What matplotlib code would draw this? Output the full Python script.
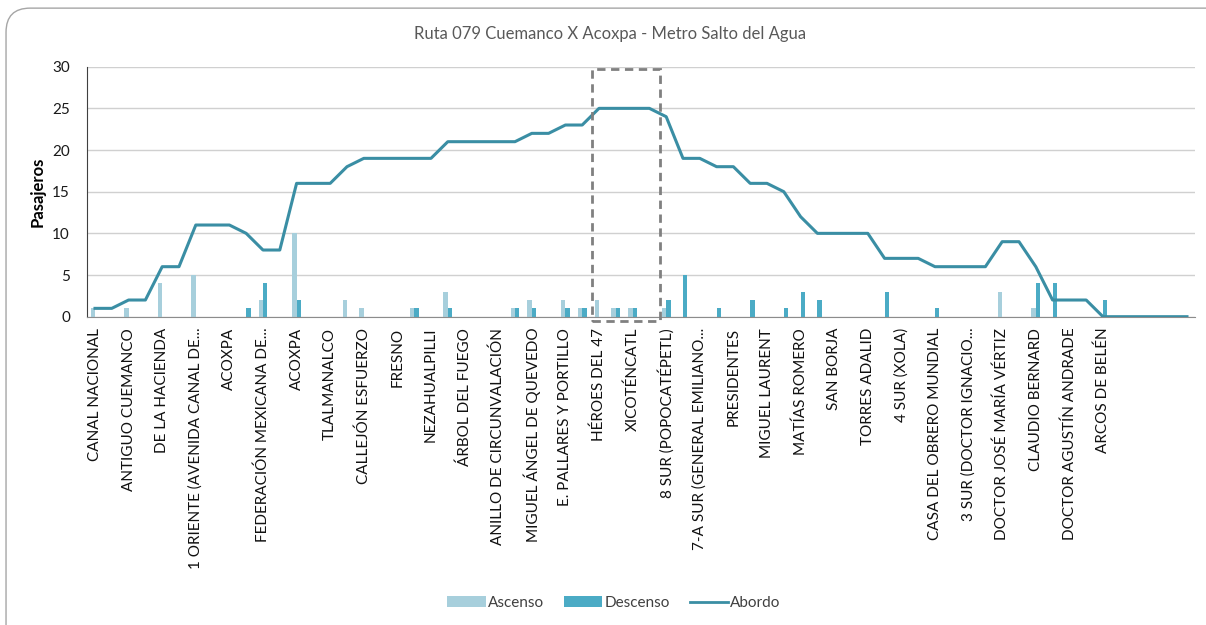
import matplotlib.pyplot as plt
import numpy as np
from matplotlib.patches import Patch, Rectangle, FancyBboxPatch
from matplotlib.lines import Line2D

plt.rcParams['font.family'] = ['Lato', 'DejaVu Sans']

# stop labels (only every second stop is labelled on the axis)
stop_labels = [
    'CANAL NACIONAL', 'ANTIGUO CUEMANCO', 'DE LA HACIENDA', '1 ORIENTE (AVENIDA CANAL DE...',
    'ACOXPA', 'FEDERACIÓN MEXICANA DE...', 'ACOXPA', 'TLALMANALCO', 'CALLEJÓN ESFUERZO',
    'FRESNO', 'NEZAHUALPILLI', 'ÁRBOL DEL FUEGO', 'ANILLO DE CIRCUNVALACIÓN',
    'MIGUEL ÁNGEL DE QUEVEDO', 'E. PALLARES Y PORTILLO', 'HÉROES DEL 47', 'XICOTÉNCATL',
    '8 SUR (POPOCATÉPETL)', '7-A SUR (GENERAL EMILIANO...', 'PRESIDENTES', 'MIGUEL LAURENT',
    'MATÍAS ROMERO', 'SAN BORJA', 'TORRES ADALID', '4 SUR (XOLA)', 'CASA DEL OBRERO MUNDIAL',
    '3 SUR (DOCTOR IGNACIO...', 'DOCTOR JOSÉ MARÍA VÉRTIZ', 'CLAUDIO BERNARD',
    'DOCTOR AGUSTÍN ANDRADE', 'ARCOS DE BELÉN', '', '',
]

abordo = [1, 1, 2, 2, 6, 6, 11, 11, 11, 10, 8, 8, 16, 16, 16, 18, 19, 19, 19, 19,
          19, 21, 21, 21, 21, 21, 22, 22, 23, 23, 25, 25, 25, 25, 24, 19, 19, 18, 18, 16,
          16, 15, 12, 10, 10, 10, 10, 7, 7, 7, 6, 6, 6, 6, 9, 9, 6, 2, 2, 2,
          0, 0, 0, 0, 0, 0]

ascenso = [1, 0, 1, 0, 4, 0, 5, 0, 0, 0, 2, 0, 10, 0, 0, 2, 1, 0, 0, 1,
           0, 3, 0, 0, 0, 1, 2, 0, 2, 1, 2, 1, 1, 0, 1, 0, 0, 0, 0, 0,
           0, 0, 0, 0, 0, 0, 0, 0, 0, 0, 0, 0, 0, 0, 3, 0, 1, 0, 0, 0,
           0, 0, 0, 0, 0, 0]

descenso = [0, 0, 0, 0, 0, 0, 0, 0, 0, 1, 4, 0, 2, 0, 0, 0, 0, 0, 0, 1,
            0, 1, 0, 0, 0, 1, 1, 0, 1, 1, 0, 1, 1, 0, 2, 5, 0, 1, 0, 2,
            0, 1, 3, 2, 0, 0, 0, 3, 0, 0, 1, 0, 0, 0, 0, 0, 4, 4, 0, 0,
            2, 0, 0, 0, 0, 0]

c_asc = '#A7CFDC'
c_desc = '#4BABC5'
c_line = '#3A8EA4'

x = np.arange(len(abordo))

fig = plt.figure(figsize=(12.06, 6.25), dpi=100)

# rounded chart-area border like the Excel export
border = FancyBboxPatch((0.005, -0.05), 1.05, 1.037, boxstyle='round,pad=0,rounding_size=0.02',
                        transform=fig.transFigure, facecolor='white', edgecolor='#A6A6A6',
                        linewidth=1, mutation_aspect=1206 / 625, zorder=-10)
fig.patches.append(border)

ax = fig.add_axes([0.0718, 0.4933, 0.9194, 0.40])
ax.set_facecolor('none')

bw = 0.26
ax.bar(x - bw / 2, ascenso, width=bw, color=c_asc, zorder=2)
ax.bar(x + bw / 2, descenso, width=bw, color=c_desc, zorder=2)
ax.plot(x, abordo, color=c_line, linewidth=2.2, zorder=3)

ax.set_xlim(-0.5, len(abordo) - 0.5)
ax.set_ylim(0, 30)
ax.set_yticks(range(0, 31, 5))
ax.yaxis.grid(True, color='#D0D0D0', linewidth=1)
ax.set_axisbelow(True)
ax.tick_params(axis='y', length=0, labelsize=11, pad=12, colors='#1A1A1A')

ax.set_xticks(x[::2])
ax.set_xticklabels(stop_labels, rotation=90, fontsize=11, color='#111111')
ax.tick_params(axis='x', length=0, pad=8)

for s in ['top', 'right']:
    ax.spines[s].set_visible(False)
ax.spines['left'].set_color('#404040')
ax.spines['bottom'].set_color('#8C8C8C')

ax.set_ylabel('Pasajeros', fontsize=12, fontweight='bold', labelpad=5)

# highlighted section
ax.add_patch(Rectangle((29.57, -0.5), 4.06, 30.2, fill=False, edgecolor='#808080',
                       linestyle=(0, (3, 2)), linewidth=2, clip_on=False, zorder=4))

fig.text(0.506, 0.945, 'Ruta 079 Cuemanco X Acoxpa - Metro Salto del Agua',
         ha='center', va='center', fontsize=12, color='#595959')

handles = [Patch(facecolor=c_asc, label='Ascenso'),
           Patch(facecolor=c_desc, label='Descenso'),
           Line2D([], [], color=c_line, linewidth=2, label='Abordo')]
fig.legend(handles=handles, loc='center', bbox_to_anchor=(0.509, 0.035), ncol=3,
           frameon=False, fontsize=11, handlelength=2.5, handleheight=0.7,
           columnspacing=1.3, handletextpad=0.15, labelcolor='#404040')

fig.savefig('out.png', dpi=100)
